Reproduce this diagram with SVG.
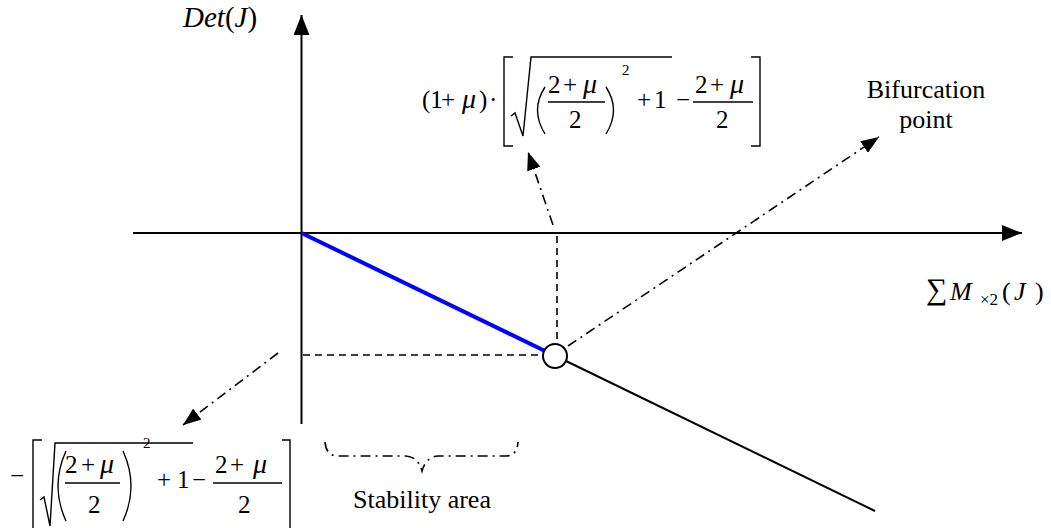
<svg xmlns="http://www.w3.org/2000/svg" width="1051" height="528" viewBox="0 0 1051 528">
<defs>
<style>
.ax{stroke:#000;stroke-width:2;fill:none}
.dash{stroke:#000;stroke-width:1.6;fill:none;stroke-dasharray:7 5}
.dd{stroke:#000;stroke-width:1.6;fill:none;stroke-dasharray:10 5 2 5}
.m{stroke:#000;stroke-width:1.4;fill:none}
.t{font-family:'Liberation Serif','DejaVu Serif',serif;fill:#000}
.i{font-style:italic}
</style>
<marker id="axh" viewBox="0 0 20 16" refX="20" refY="8" markerWidth="20" markerHeight="16" markerUnits="userSpaceOnUse" orient="auto"><path d="M0,0 L20,8 L0,16 z" fill="#000"/></marker>
<marker id="ah" viewBox="0 0 18 14" refX="18" refY="7" markerWidth="18" markerHeight="14" markerUnits="userSpaceOnUse" orient="auto"><path d="M0,0 L18,7 L0,14 z" fill="#000"/></marker>
</defs>
<rect width="1051" height="528" fill="#fff"/>

<g id="axes">
<line class="ax" x1="301.5" y1="424" x2="301.5" y2="15" marker-end="url(#axh)"/>
<line class="ax" x1="133" y1="233" x2="1022" y2="233" marker-end="url(#axh)"/>
</g>

<g id="curve">
<line x1="301.5" y1="233" x2="544" y2="350.5" stroke="#0000ff" stroke-width="4"/>
<line class="ax" x1="566" y1="361" x2="875" y2="511"/>
</g>

<g id="connectors">
<line class="dash" x1="303" y1="355" x2="543" y2="355"/>
<line class="dash" x1="557" y1="236" x2="557" y2="344"/>
<line class="dd" x1="553" y1="225" x2="528" y2="152" marker-end="url(#ah)"/>
<line class="dd" x1="568" y1="346" x2="879" y2="137" marker-end="url(#ah)"/>
<line class="dd" x1="278" y1="353" x2="183" y2="425" marker-end="url(#ah)"/>
<path class="dd" d="M325 442 Q326 456 338 456 L406 456 Q418 457 422 471 Q426 457 438 456 L506 456 Q517 456 518 442"/>
</g>

<g id="bifurcation-point">
<circle cx="555" cy="356" r="12" fill="#fff" stroke="#000" stroke-width="2"/>
</g>

<g id="label-det" class="t" font-size="29">
<text x="183" y="27"><tspan class="i">Det</tspan>(<tspan class="i">J</tspan>)</text>
</g>

<g id="label-sum" class="t" font-size="26">
<text x="926" y="299"><tspan font-size="30">∑</tspan><tspan class="i" x="950" y="300">M</tspan><tspan x="980" y="305" font-size="17">×2</tspan><tspan x="1002" y="300">(</tspan><tspan class="i" x="1014">J</tspan><tspan x="1035">)</tspan></text>
</g>

<g id="label-bifurcation" class="t" font-size="26" text-anchor="middle">
<text x="926" y="98">Bifurcation</text>
<text x="926" y="128">point</text>
</g>

<g id="label-stability" class="t" font-size="26" text-anchor="middle">
<text x="422" y="508">Stability area</text>
</g>

<g id="formula-top" class="t" font-size="25">
<text x="422" y="108">(1<tspan x="441">+</tspan><tspan class="i" x="462" font-size="28">μ</tspan><tspan x="479">)</tspan><tspan x="489">·</tspan></text>
<path class="m" d="M513 57 H504 V146 H513"/>
<path class="m" d="M511 116 L515 113 L523 136 L531 57 H672"/>
<path class="m" d="M545 87 Q530 110 545 134"/>
<text x="548" y="93">2<tspan x="563">+</tspan><tspan class="i" x="583" font-size="28">μ</tspan></text>
<path class="m" d="M548 102 H605"/>
<text x="569" y="128">2</text>
<path class="m" d="M606 87 Q621 110 606 134"/>
<text x="622" y="75" font-size="15">2</text>
<text x="637" y="108">+<tspan x="654">1</tspan><tspan x="676">−</tspan></text>
<text x="695" y="93">2<tspan x="710">+</tspan><tspan class="i" x="730" font-size="28">μ</tspan></text>
<path class="m" d="M693 102 H753"/>
<text x="716" y="128">2</text>
<path class="m" d="M751 57 H760 V146 H751"/>
</g>

<g id="formula-bottom" class="t" font-size="25">
<text x="10" y="484">−</text>
<path class="m" d="M42 440 H33 V528"/>
<path class="m" d="M40 500 L44 497 L50 526 L55 443 H193"/>
<path class="m" d="M66 451 Q50 486 66 521"/>
<text x="65" y="473">2<tspan x="81">+</tspan><tspan class="i" x="100" font-size="28">μ</tspan></text>
<path class="m" d="M65 483 H120"/>
<text x="88" y="513">2</text>
<path class="m" d="M123 451 Q139 486 123 521"/>
<text x="143" y="448" font-size="15">2</text>
<text x="157" y="488">+<tspan x="177">1</tspan><tspan x="192">−</tspan></text>
<text x="215" y="473">2<tspan x="230">+</tspan><tspan class="i" x="253" font-size="28">μ</tspan></text>
<path class="m" d="M213 483 H282"/>
<text x="238" y="513">2</text>
<path class="m" d="M282 440 H290 V528"/>
</g>
</svg>
